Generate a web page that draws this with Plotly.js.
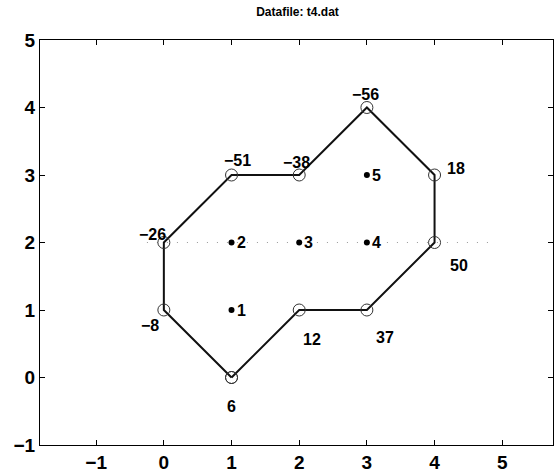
<!DOCTYPE html>
<html><head><meta charset="utf-8">
<script src="https://cdn.plot.ly/plotly-3.0.1.min.js"></script>
<style>body{margin:0;background:#fff}#p{width:554px;height:475px}</style>
</head><body><div id="p"></div>
<script>
// Polygon vertices (closed) and their values
const vertX = [1, 0, 0, 1, 2, 3, 4, 4, 3, 2, 1];
const vertY = [0, 1, 2, 3, 3, 4, 3, 2, 1, 1, 0];
const vertVal = ["6", "−8", "−26", "−51", "−38", "−56", "18", "50", "37", "12"];
// Interior numbered points
const ptX = [1, 1, 2, 3, 3];
const ptY = [1, 2, 2, 2, 3];
const ptLab = ["1", "2", "3", "4", "5"];
// Dotted guide line at y = 2
const guideX = [-0.25, 4.8];
const guideY = [2, 2];
const xTicks = [-1, 0, 1, 2, 3, 4, 5];
const yTicks = [-1, 0, 1, 2, 3, 4, 5];

// label pixel offsets (style)
const offs = [[0,-29],[-14,-15],[-11,8],[6,15],[-3,13],[-1,13],[21,7],[24,-23],[18,-27],[13,-29]];

const font = {family: "Liberation Sans, Arial, sans-serif", color: "#000", weight: "bold"};
const traces = [
  {x: guideX, y: guideY, mode: "lines", line: {color: "#999", width: 1, dash: "1px,9px"}, hoverinfo: "skip"},
  {x: vertX, y: vertY, mode: "lines+markers", line: {color: "#111", width: 2},
   marker: {symbol: "circle-open", size: 12, color: "#333", line: {width: 1}}},
  {x: ptX, y: ptY, mode: "markers", marker: {symbol: "circle", size: 6, color: "#000"}}
];
const ann = [];
for (let i = 0; i < vertVal.length; i++) {
  ann.push({x: vertX[i], y: vertY[i], text: vertVal[i], showarrow: false,
    xshift: offs[i][0], yshift: offs[i][1], font: Object.assign({size: 16}, font)});
}
for (let i = 0; i < ptLab.length; i++) {
  ann.push({x: ptX[i], y: ptY[i], text: ptLab[i], showarrow: false,
    xanchor: "left", xshift: 3, yshift: 0, font: Object.assign({size: 16}, font)});
}
const layout = {
  width: 554, height: 475,
  margin: {l: 40, r: 1, t: 40, b: 30},
  showlegend: false,
  paper_bgcolor: "#fff", plot_bgcolor: "#fff",
  title: {text: "Datafile: t4.dat", font: Object.assign({size: 12}, font), x: 0.537, xanchor: "center", y: 0.975, yanchor: "middle"},
  xaxis: {range: [-1.83, 5.75], tickvals: xTicks, ticks: "inside", ticklen: 5, tickcolor: "#000",
    showgrid: false, zeroline: false, showline: true, linecolor: "#000", linewidth: 1, mirror: "ticks",
    tickfont: Object.assign({size: 19}, font)},
  yaxis: {range: [-1, 5], tickvals: yTicks, ticks: "inside", ticklen: 5, tickcolor: "#000",
    showgrid: false, zeroline: false, showline: true, linecolor: "#000", linewidth: 1, mirror: "ticks",
    tickfont: Object.assign({size: 19}, font)},
  annotations: ann
};
Plotly.newPlot("p", traces, layout, {displayModeBar: false, staticPlot: true});
</script></body></html>
